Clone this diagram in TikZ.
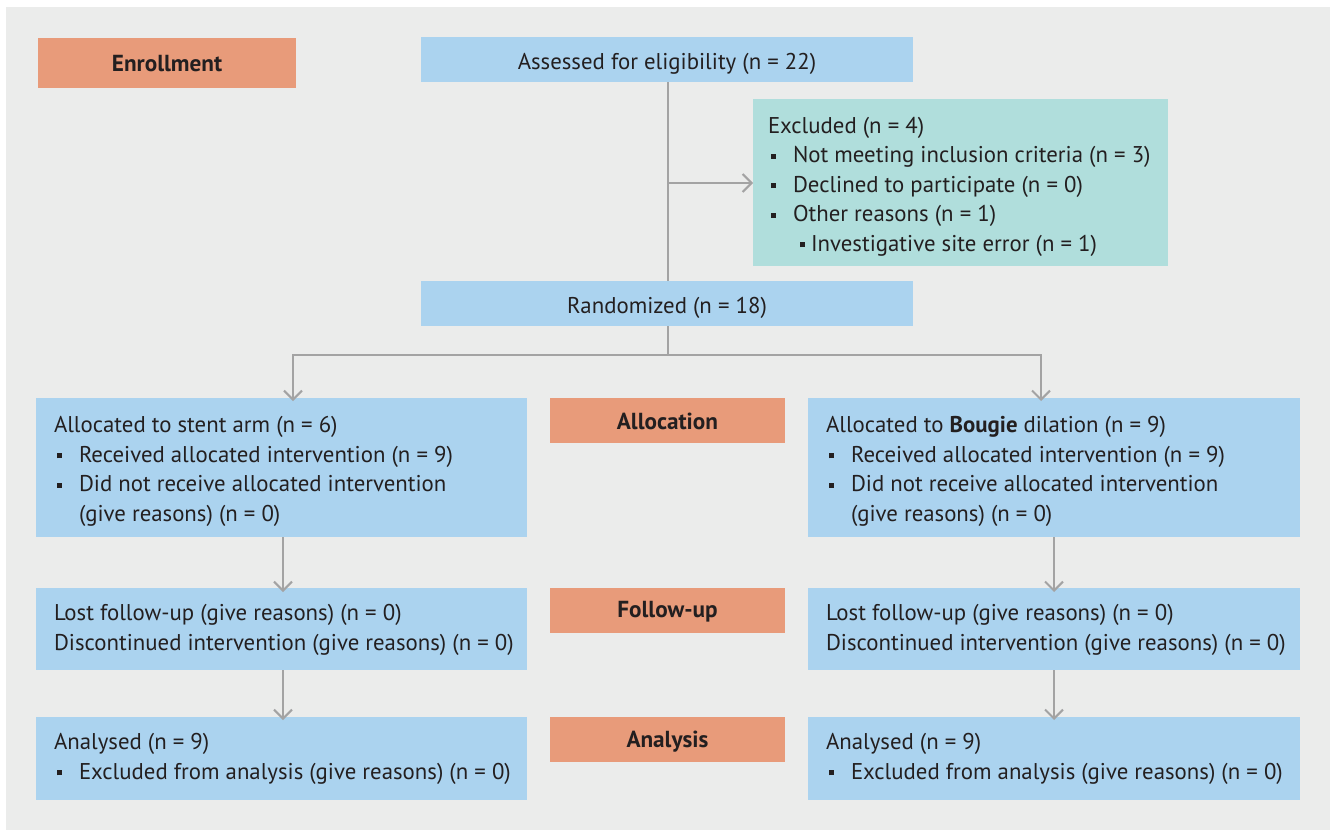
\documentclass[tikz,border=0pt]{standalone}
\usepackage{fontspec}
\setmainfont{PT Sans}
\usetikzlibrary{arrows.meta}
\definecolor{bg}{HTML}{EBECEB}
\definecolor{bluebox}{HTML}{ABD3EF}
\definecolor{tealbox}{HTML}{B0DEDC}
\definecolor{orangebox}{HTML}{E89B7A}
\definecolor{linegray}{HTML}{A3A3A3}
\definecolor{txt}{HTML}{231F20}
\newcommand{\bul}{\hspace*{3pt}\rule[4pt]{5pt}{5pt}\hspace*{17pt}}
\newcommand{\sbul}{\rule[4pt]{5pt}{5pt}\hspace*{6pt}}
\newcommand{\bt}[4][4pt]{\hspace*{#2}\raisebox{-#1}[\height][\depth]{\parbox{#3}{\raggedright #4}}}
\newcommand{\lw}[2]{\raisebox{-#1}[\height][\depth]{#2}}
\tikzset{
  box/.style={anchor=north west, inner sep=0pt, outer sep=0pt, text=txt, font=\fontsize{22.8}{29.5}\selectfont},
  blue/.style={box, fill=bluebox},
  teal/.style={box, fill=tealbox},
  stage/.style={box, fill=orangebox, font=\fontsize{23.2}{26}\selectfont\bfseries, align=center},
  conn/.style={draw=linegray, line width=2pt},
  arr/.style={conn, -{Straight Barb[length=9pt, width=18pt, line width=2pt]}}
}
\begin{document}
\begin{tikzpicture}[x=1pt,y=-1pt]
\useasboundingbox (0,0) rectangle (1335,830);
\fill[white] (0,0) rectangle (1335,830);
\fill[bg] (6,7) rectangle (1330,830);
% stage labels
\node[stage, minimum width=258pt, minimum height=50pt] (enr) at (38,38) {\lw{1pt}{Enrollment}};
\node[stage, minimum width=235pt, minimum height=45pt] (alloc) at (550,398) {\lw{0.5pt}{Allocation}};
\node[stage, minimum width=235pt, minimum height=45pt] (fup) at (550,588) {\lw{1.5pt}{Follow-up}};
\node[stage, minimum width=235pt, minimum height=45pt] (ana) at (550,717) {\lw{2pt}{Analysis}};
% top boxes
\node[blue, minimum width=492pt, minimum height=45pt, align=center] (assess) at (421,37) {\lw{4.5pt}{Assessed for eligibility (n = 22)}};
\node[blue, minimum width=492pt, minimum height=45pt, align=center] (rand) at (421,281) {\lw{4pt}{Randomized (n = 18)}};
\node[teal, minimum width=415pt, minimum height=167pt] (excl) at (753,99) {\bt{15pt}{400pt}{%
Excluded (n = 4)\\
\bul Not meeting inclusion criteria (n = 3)\\
\bul Declined to participate (n = 0)\\
\bul Other reasons (n = 1)\\
\hspace*{32pt}\sbul Investigative site error (n = 1)}};
% allocation boxes
\node[blue, minimum width=491pt, minimum height=139pt] (la) at (36,398) {\bt{18pt}{473pt}{%
Allocated to stent arm (n = 6)\\
\bul Received allocated intervention (n = 9)\\
\bul Did not receive allocated intervention\\
\hspace*{25pt}(give reasons) (n = 0)}};
\node[blue, minimum width=492pt, minimum height=139pt] (ra) at (808,398) {\bt{18pt}{474pt}{%
Allocated to \textbf{Bougie} dilation (n = 9)\\
\bul Received allocated intervention (n = 9)\\
\bul Did not receive allocated intervention\\
\hspace*{25pt}(give reasons) (n = 0)}};
% follow-up
\node[blue, minimum width=491pt, minimum height=82pt] (lf) at (36,588) {\bt[1pt]{18pt}{473pt}{%
Lost follow-up (give reasons) (n = 0)\\
Discontinued intervention (give reasons) (n = 0)}};
\node[blue, minimum width=492pt, minimum height=82pt] (rf) at (808,588) {\bt[1pt]{18pt}{474pt}{%
Lost follow-up (give reasons) (n = 0)\\
Discontinued intervention (give reasons) (n = 0)}};
% analysis
\node[blue, minimum width=491pt, minimum height=83pt] (lan) at (36,717) {\bt[0.5pt]{18pt}{473pt}{%
Analysed (n = 9)\\
\bul Excluded from analysis (give reasons) (n = 0)}};
\node[blue, minimum width=492pt, minimum height=83pt] (ran) at (808,717) {\bt[0.5pt]{18pt}{474pt}{%
Analysed (n = 9)\\
\bul Excluded from analysis (give reasons) (n = 0)}};
% connectors
\coordinate (split) at (668,355);
\coordinate (exj) at (668,183);
\draw[conn] (assess.south -| exj) -- (rand.north -| exj);
\draw[arr] (exj) -- (excl.west |- exj);
\draw[conn] (rand.south -| split) -- (split);
\draw[arr] (split) -| ([yshift=-3pt]la.north -| 293,0);
\draw[arr] (split) -| ([yshift=-3pt]ra.north -| 1041,0);
\draw[arr] (la.south -| 283,0) -- ([yshift=-4pt]lf.north -| 283,0);
\draw[arr] (ra.south -| 1054,0) -- ([yshift=-4pt]rf.north -| 1054,0);
\draw[arr] (lf.south -| 283,0) -- ([yshift=-3pt]lan.north -| 283,0);
\draw[arr] (rf.south -| 1054,0) -- ([yshift=-3pt]ran.north -| 1054,0);
\end{tikzpicture}
\end{document}
